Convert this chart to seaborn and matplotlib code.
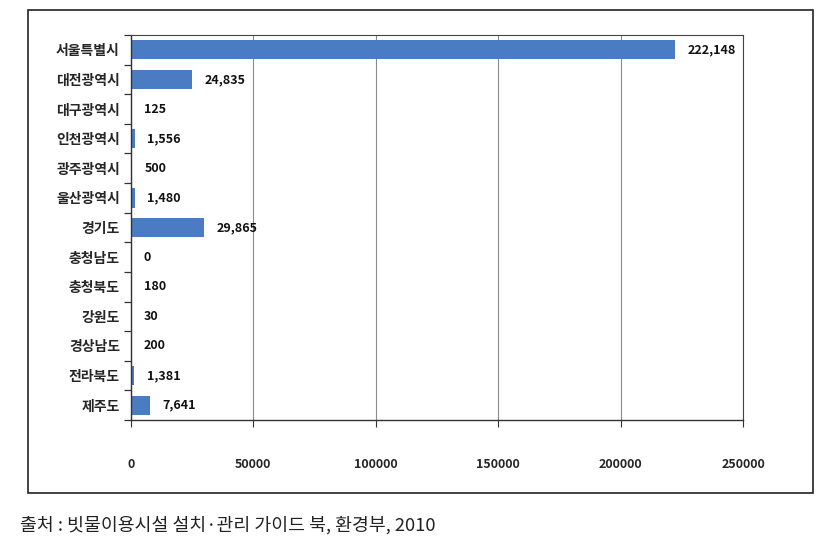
import matplotlib
matplotlib.use("Agg")
import matplotlib.pyplot as plt
import seaborn as sns
import pandas as pd
import numpy as np
from matplotlib.patches import Rectangle
from matplotlib.ticker import FixedLocator

regions = ["서울특별시", "대전광역시", "대구광역시", "인천광역시", "광주광역시", "울산광역시",
           "경기도", "충청남도", "충청북도", "강원도", "경상남도", "전라북도", "제주도"]
values = [222148, 24835, 125, 1556, 500, 1480, 29865, 0, 180, 30, 200, 1381, 7641]
value_labels = ["222,148", "24,835", "125", "1,556", "500", "1,480", "29,865", "0", "180",
                "30", "200", "1,381", "7,641"]
x_ticks = [0, 50000, 100000, 150000, 200000, 250000]
source_text = "출처 : 빗물이용시설 설치·관리 가이드 북, 환경부, 2010"

sns.set_style("white", {"ytick.left": True, "xtick.bottom": True})
plt.rcParams['font.family'] = ['Noto Sans CJK KR', 'DejaVu Sans']

df = pd.DataFrame({"region": regions, "value": values})

fig = plt.figure(figsize=(8.17, 5.49), dpi=100)
ax = fig.add_axes([131/817, 1-420/549, (743-131)/817, (420-35)/549])

sns.barplot(data=df, x="value", y="region", orient="h", color="#4a7cc4",
            width=0.65, ax=ax, saturation=1, edgecolor="none")

ax.set_xlim(0, 250000)
ax.set_ylim(len(regions) - 0.5, -0.5)
ax.set_xticks(x_ticks)
ax.set_xticklabels([str(t) for t in x_ticks], fontsize=9, fontweight="bold")
ax.tick_params(axis="x", length=5, width=0.8, color="#333333", pad=22, direction="out")
ax.xaxis.grid(True, color="#8c8c8c", linewidth=0.8)
ax.set_axisbelow(True)

ax.set_yticks(range(len(regions)))
ax.set_yticklabels(regions, fontsize=10, fontweight="bold")
ax.yaxis.set_minor_locator(FixedLocator(np.arange(-0.5, len(regions), 1.0)))
ax.tick_params(axis="y", which="major", left=True, length=0, pad=8)
ax.tick_params(axis="y", which="minor", left=True, length=5, width=0.9,
               color="#333333", direction="out")

ax.set_xlabel("")
ax.set_ylabel("")

for s in ["left", "bottom"]:
    ax.spines[s].set_color("#333333")
    ax.spines[s].set_linewidth(1.0)
for s in ["top", "right"]:
    ax.spines[s].set_color("#444444")
    ax.spines[s].set_linewidth(0.8)
    ax.spines[s].set_visible(True)

for i, (v, lab) in enumerate(zip(values, value_labels)):
    ax.annotate(lab, xy=(v, i), xytext=(9, 0), textcoords="offset points",
                va="center", ha="left", fontsize=9, fontweight="bold", color="#111111")

fig.patches.append(Rectangle((28/817, 1-493/549), 785/817, 483/549,
                             transform=fig.transFigure, fill=False,
                             edgecolor="#222222", linewidth=1.2))

fig.text(20/817, 1-525/549, source_text, fontsize=13.2, fontweight="light",
         va="center", ha="left", color="#222222")

fig.savefig("out.png", dpi=100)
